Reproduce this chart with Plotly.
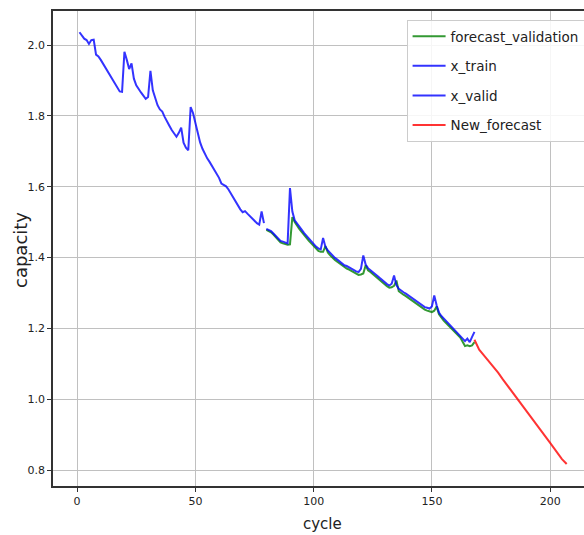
import plotly.graph_objects as go

train_cycle = list(range(1, 80))
train_capacity = [
    2.036, 2.027, 2.018, 2.014, 2.003, 2.014, 2.015, 1.973, 1.968, 1.958,
    1.947, 1.936, 1.925, 1.914, 1.903, 1.892, 1.880, 1.869, 1.868, 1.981,
    1.958, 1.932, 1.948, 1.905, 1.886, 1.874, 1.866, 1.857, 1.848, 1.853,
    1.927, 1.872, 1.848, 1.830, 1.818, 1.812, 1.797, 1.783, 1.772, 1.760,
    1.750, 1.741, 1.752, 1.767, 1.724, 1.710, 1.703, 1.825, 1.808, 1.780,
    1.748, 1.725, 1.707, 1.693, 1.680, 1.670, 1.659, 1.647, 1.636, 1.625,
    1.609, 1.605, 1.601, 1.592, 1.580, 1.568, 1.556, 1.546, 1.536, 1.528,
    1.531, 1.524, 1.518, 1.511, 1.504, 1.497, 1.493, 1.530, 1.497,
]

valid_cycle = list(range(80, 169))
valid_capacity = [
    1.481, 1.478, 1.475, 1.468, 1.461, 1.452, 1.447, 1.445, 1.443, 1.440,
    1.596, 1.530, 1.505, 1.495, 1.486, 1.478, 1.469, 1.461, 1.453, 1.446,
    1.438, 1.431, 1.426, 1.423, 1.455, 1.430, 1.420, 1.412, 1.404, 1.399,
    1.394, 1.389, 1.383, 1.378, 1.376, 1.372, 1.369, 1.365, 1.361, 1.359,
    1.368, 1.406, 1.380, 1.370, 1.365, 1.359, 1.354, 1.348, 1.342, 1.336,
    1.331, 1.325, 1.321, 1.326, 1.349, 1.322, 1.312, 1.306, 1.302, 1.298,
    1.293, 1.288, 1.284, 1.279, 1.274, 1.270, 1.265, 1.260, 1.258, 1.256,
    1.262, 1.293, 1.265, 1.245, 1.235, 1.228, 1.221, 1.214, 1.208, 1.201,
    1.194, 1.188, 1.180, 1.172, 1.164, 1.171, 1.161, 1.176, 1.190,
]

forecast_validation = [
    1.478, 1.475, 1.471, 1.465, 1.457, 1.448, 1.443, 1.440, 1.438, 1.436,
    1.437, 1.514, 1.500, 1.489, 1.480, 1.472, 1.463, 1.455, 1.447, 1.440,
    1.432, 1.425, 1.419, 1.416, 1.416, 1.432, 1.414, 1.406, 1.398, 1.393,
    1.388, 1.383, 1.377, 1.372, 1.369, 1.366, 1.362, 1.358, 1.354, 1.351,
    1.352, 1.355, 1.378, 1.364, 1.359, 1.353, 1.348, 1.342, 1.336, 1.330,
    1.325, 1.319, 1.315, 1.316, 1.320, 1.335, 1.305, 1.299, 1.295, 1.291,
    1.286, 1.281, 1.277, 1.272, 1.267, 1.263, 1.258, 1.253, 1.250, 1.247,
    1.246, 1.250, 1.262, 1.240, 1.229, 1.222, 1.215, 1.208, 1.202, 1.195,
    1.188, 1.182, 1.174, 1.162, 1.150, 1.152, 1.150, 1.152, 1.161,
]

new_forecast_cycle = [168, 169, 170, 172, 175, 178, 180, 185, 190, 195, 200, 205, 207]
new_forecast = [1.168, 1.152, 1.140, 1.124, 1.100, 1.075, 1.056, 1.012, 0.968,
                0.922, 0.877, 0.831, 0.817]

x_ticks = [0, 50, 100, 150, 200]
y_ticks = [0.8, 1.0, 1.2, 1.4, 1.6, 1.8, 2.0]

FONT = "DejaVu Sans, sans-serif"

fig = go.Figure()
fig.add_trace(go.Scatter(x=valid_cycle, y=forecast_validation, mode="lines",
                         name="forecast_validation", legendgroup="a",
                         line=dict(color="rgba(0,128,0,0.8)", width=2)))
fig.add_trace(go.Scatter(x=train_cycle, y=train_capacity, mode="lines",
                         name="x_train", legendgroup="b",
                         line=dict(color="rgba(0,0,255,0.8)", width=2)))
fig.add_trace(go.Scatter(x=valid_cycle, y=valid_capacity, mode="lines",
                         name="x_valid", legendgroup="c",
                         line=dict(color="rgba(0,0,255,0.8)", width=2)))
fig.add_trace(go.Scatter(x=new_forecast_cycle, y=new_forecast, mode="lines",
                         name="New_forecast", legendgroup="d",
                         line=dict(color="rgba(255,0,0,0.8)", width=2)))

# plot area: page x 53..592 (right spine just outside the window), y 11..486
fig.update_layout(
    width=592, height=535,
    margin=dict(l=53, r=0, t=11, b=49, autoexpand=False),
    paper_bgcolor="white", plot_bgcolor="white",
    font=dict(family=FONT, color="#222", size=11),
    legend=dict(x=0.656, y=0.981, xanchor="left", yanchor="top",
                bgcolor="rgba(255,255,255,0.85)", bordercolor="#cccccc",
                borderwidth=1, font=dict(size=13.5, color="#222"),
                traceorder="grouped", tracegroupgap=9, itemwidth=33,
                valign="middle"),
    xaxis=dict(range=[-10.2, 217.7], tickvals=x_ticks, showgrid=True,
               gridcolor="#c0c0c0", gridwidth=1, zeroline=False,
               showline=True, linecolor="#333", linewidth=1.5, mirror=True,
               ticks="outside", ticklen=4, tickcolor="#333", automargin=False,
               tickfont=dict(size=11)),
    yaxis=dict(range=[0.755, 2.096], tickvals=y_ticks, tickformat=".1f",
               showgrid=True, gridcolor="#c0c0c0", gridwidth=1, zeroline=False,
               showline=True, linecolor="#333", linewidth=1.5,
               ticks="outside", ticklen=4, tickcolor="#333", automargin=False,
               tickfont=dict(size=11)),
    annotations=[
        dict(text="cycle", xref="paper", yref="paper", x=(322 - 53) / 539,
             y=(486 - 524) / 475, xanchor="center", yanchor="middle",
             showarrow=False, font=dict(size=15, color="#222")),
        dict(text="capacity", xref="paper", yref="paper", x=(20 - 53) / 539,
             y=1 - (250 - 11) / 475, xanchor="center", yanchor="middle",
             textangle=-90, showarrow=False, font=dict(size=18, color="#222")),
    ],
    showlegend=True,
)

fig.write_html("out.html", config={"displayModeBar": False},
               post_script="document.body.style.margin='0px';document.body.style.overflow='hidden';")
